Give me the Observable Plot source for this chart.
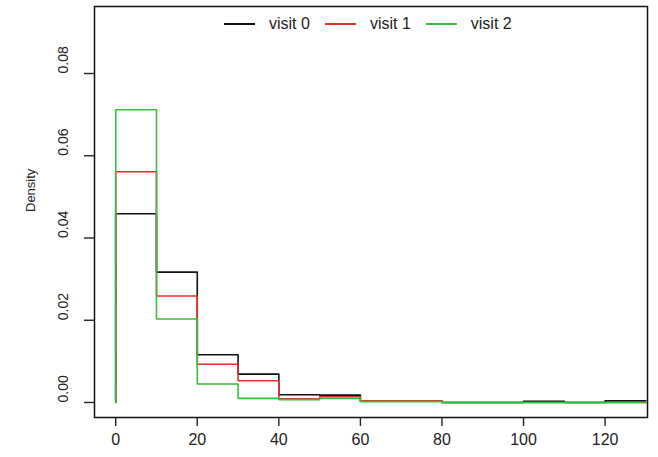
<!DOCTYPE html>
<html>
<head>
<meta charset="utf-8">
<script src="https://cdn.jsdelivr.net/npm/d3@7"></script>
<script src="https://cdn.jsdelivr.net/npm/@observablehq/plot@0.6"></script>
<style>
  html, body { margin: 0; padding: 0; background: #fff; }
  #wrap { position: relative; width: 658px; height: 457px; }
  #legend { position: absolute; top: 15px; left: 224px; display: flex; align-items: center;
            font-family: "Liberation Sans", Arial, sans-serif; font-size: 16px; color: #222; }
  #legend .sw { display: inline-block; width: 31px; height: 2px; margin-right: 14px; }
  #legend .it { display: flex; align-items: center; margin-right: 15px; }
</style>
</head>
<body>
<div id="wrap"><div id="legend"></div></div>
<script>
// Histogram bin edges (0..130 in steps of 10)
const breaks = [0, 10, 20, 30, 40, 50, 60, 70, 80, 90, 100, 110, 120, 130];
const seriesNames = ["visit 0", "visit 1", "visit 2"];
const seriesColors = ["#111111", "#e2302e", "#38bf38"];
// Density per bin
const visit0 = [0.0459, 0.0317, 0.0116, 0.0069, 0.0019, 0.0018, 0.0004, 0.0004, 0, 0, 0.0003, 0, 0.0004];
const visit1 = [0.0561, 0.0259, 0.0093, 0.0053, 0.0009, 0.0014, 0.0004, 0.0004, 0, 0, 0, 0, 0];
const visit2 = [0.0712, 0.0203, 0.0045, 0.0010, 0.0007, 0.0010, 0.0002, 0.0002, 0, 0, 0, 0, 0];
const xTicks = [0, 20, 40, 60, 80, 100, 120];
const yTicks = [0.00, 0.02, 0.04, 0.06, 0.08];

const allSeries = [visit0, visit1, visit2];
function stepRows(vals, name) {
  const rows = [{x: breaks[0], y: 0, s: name}];
  vals.forEach((v, i) => rows.push({x: breaks[i], y: v, s: name}));
  rows.push({x: breaks[breaks.length - 1], y: vals[vals.length - 1], s: name});
  return rows;
}

const font = "Liberation Sans, Arial, sans-serif";
const chart = Plot.plot({
  width: 658,
  height: 457,
  marginLeft: 94,
  marginRight: 11,
  marginTop: 6,
  marginBottom: 40,
  style: {fontFamily: font, background: "#fff"},
  x: {domain: [-5.2, 130.4], label: null},
  y: {domain: [-0.00365, 0.0963], label: null},
  marks: [
    ...allSeries.map((vals, k) => Plot.line(stepRows(vals, seriesNames[k]), {
      x: "x", y: "y", curve: "step-after", stroke: seriesColors[k], strokeWidth: 1.6
    })),
    Plot.frame({stroke: "#111", strokeWidth: 1.5}),
    Plot.axisX({ticks: xTicks, tickSize: 9, tickFormat: () => "", label: null, stroke: "#222", strokeWidth: 1.4}),
    Plot.text(xTicks, {x: d => d, text: d => String(d), frameAnchor: "bottom", dy: 27,
      fontSize: 16, fill: "#222"}),
    Plot.axisY({ticks: yTicks, tickSize: 10, tickFormat: () => "", label: null, stroke: "#222", strokeWidth: 1.4}),
    Plot.text(yTicks, {y: d => d, text: d => d.toFixed(2), frameAnchor: "left", dx: -31,
      rotate: -90, fontSize: 14, fill: "#222"}),
    Plot.text(["Density"], {frameAnchor: "left", dx: -64, rotate: -90, fontSize: 13, fill: "#222",
      text: d => d})
  ]
});
document.getElementById("wrap").prepend(chart);

const legend = document.getElementById("legend");
seriesNames.forEach((n, k) => {
  const it = document.createElement("span");
  it.className = "it";
  const sw = document.createElement("span");
  sw.className = "sw";
  sw.style.background = seriesColors[k];
  it.appendChild(sw);
  it.appendChild(document.createTextNode(n));
  legend.appendChild(it);
});
</script>
</body>
</html>
